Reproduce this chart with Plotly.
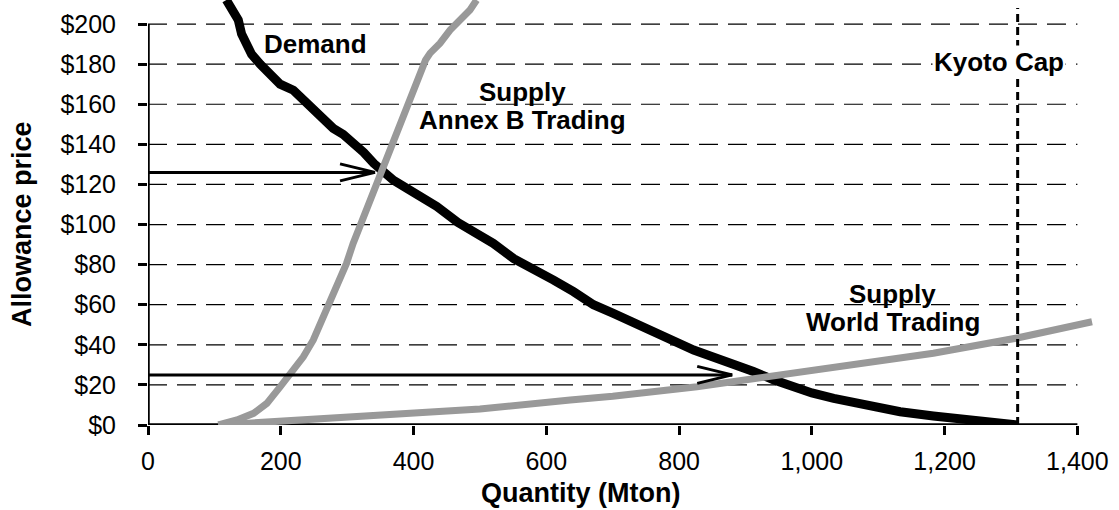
import plotly.graph_objects as go

# ---- data ----
demand_q = [118, 136, 141, 149, 156, 169, 184, 199, 219, 234, 249, 264, 279, 294, 310, 325, 340, 355, 370,
            390, 410, 435, 467, 500, 520, 551, 581, 611, 641, 671, 701, 731, 761, 792, 822, 847, 882, 912,
            942, 972, 1000, 1033, 1083, 1133, 1183, 1234, 1284, 1311]
demand_p = [212, 202, 195, 190, 185, 180, 175, 170, 167, 162, 157, 152, 148, 145, 141, 136, 130.5, 125.5, 122,
            118, 114, 109, 101, 95, 90.6, 83, 78, 72.3, 66.5, 60, 55.7, 51, 46, 41.5, 37.4, 34.4, 30.8, 26.7,
            22.6, 19, 16, 13.3, 10, 6.6, 4.5, 2.8, 1.6, 0]

annexb_q = [106, 134, 159, 179, 199, 219, 234, 249, 264, 279, 289, 299, 309, 317, 325, 335, 345, 355, 365, 375,
            385, 395, 405, 412, 418, 425, 440, 455, 470, 485, 495]
annexb_p = [0, 2.5, 5.8, 10.8, 19, 27.4, 34, 42.4, 54, 65.7, 74, 80.6, 90.6, 97.3, 104, 112, 120, 128.5, 137,
            145.5, 154, 163, 171, 177, 182, 185.5, 190.5, 197, 202, 207, 212]

world_q = [106, 200, 300, 400, 500, 636, 700, 827, 932, 1000, 1083, 1183, 1311, 1422]
world_p = [0, 1.7, 4, 5.8, 8, 12.5, 14.3, 19.1, 24.1, 27.5, 30.8, 35.8, 43.5, 51.5]

kyoto_cap = 1310
equilibria_p = [126, 25]      # arrow prices
equilibria_q = [342, 880]     # arrow tips

x_ticks = [0, 200, 400, 600, 800, 1000, 1200, 1400]
x_ticktext = [f"{v:,}" for v in x_ticks]
y_ticks = [0, 20, 40, 60, 80, 100, 120, 140, 160, 180, 200]
y_ticktext = [f"${v}" for v in y_ticks]

FONT = "Liberation Sans, Arial, sans-serif"
GRAY = "#999999"

fig = go.Figure()
fig.add_trace(go.Scatter(x=demand_q, y=demand_p, mode="lines",
                         line=dict(color="black", width=9), hoverinfo="skip"))
fig.add_trace(go.Scatter(x=annexb_q, y=annexb_p, mode="lines",
                         line=dict(color=GRAY, width=7), hoverinfo="skip"))
fig.add_trace(go.Scatter(x=world_q, y=world_p, mode="lines",
                         line=dict(color=GRAY, width=7), hoverinfo="skip"))

shapes = []
# dashed gridlines
for v in y_ticks[1:]:
    shapes.append(dict(type="line", xref="x", yref="y", x0=0, x1=x_ticks[-1], y0=v, y1=v,
                       line=dict(color="black", width=1.2, dash="19px,10px"), layer="below"))
# axis lines
shapes.append(dict(type="line", xref="x", yref="y", x0=0, x1=0, y0=0, y1=y_ticks[-1],
                   line=dict(color="black", width=3.5), layer="below"))
shapes.append(dict(type="line", xref="x", yref="y", x0=0, x1=x_ticks[-1], y0=0, y1=0,
                   line=dict(color="black", width=3.5), layer="below"))
# Kyoto cap
shapes.append(dict(type="line", xref="x", yref="y", x0=kyoto_cap, x1=kyoto_cap, y0=0, y1=208,
                   line=dict(color="black", width=3, dash="8px,5px"), layer="above"))
# arrows
for p, q in zip(equilibria_p, equilibria_q):
    shapes.append(dict(type="line", xref="x", yref="y", x0=-6, x1=q, y0=p, y1=p,
                       line=dict(color="black", width=3), layer="above"))
    for s in (1, -1):
        shapes.append(dict(type="line", xref="x", yref="y",
                           xsizemode="pixel", xanchor=q, x0=-35, x1=0,
                           ysizemode="pixel", yanchor=p, y0=8.5 * s, y1=0,
                           line=dict(color="black", width=3), layer="above"))

bold = dict(family=FONT, size=26, color="black")
annotations = [
    dict(x=252, y=190, text="<b>Demand</b>"),
    dict(x=564, y=166, text="<b>Supply</b>"),
    dict(x=564, y=152, text="<b>Annex B Trading</b>"),
    dict(x=1122, y=65.3, text="<b>Supply</b>"),
    dict(x=1122, y=51.5, text="<b>World Trading</b>"),
    dict(x=1282, y=181, text="<b>Kyoto Cap</b>", bgcolor="white", borderpad=1),
]
for a in annotations:
    a.update(xref="x", yref="y", showarrow=False, font=bold, xanchor="center", yanchor="middle")

title_font = dict(family=FONT, size=27, color="black")
annotations.append(dict(xref="paper", yref="paper", x=0.4567, y=-0.16, text="<b>Quantity (Mton)</b>",
                        showarrow=False, font=title_font, xanchor="center", yanchor="middle"))
annotations.append(dict(xref="paper", yref="paper", x=-0.1332, y=0.473, text="<b>Allowance price</b>",
                        showarrow=False, font=title_font, xanchor="center", yanchor="middle", textangle=-90))

fig.update_layout(
    width=1119, height=510,
    margin=dict(l=148, r=25, t=0, b=85, pad=0),
    paper_bgcolor="white", plot_bgcolor="white",
    showlegend=False,
    shapes=shapes, annotations=annotations,
    font=dict(family=FONT, size=25, color="black"),
    xaxis=dict(range=[0, 1425], tickmode="array", tickvals=x_ticks, ticktext=x_ticktext,
               showgrid=False, zeroline=False, automargin=False,
               showline=False, ticks="outside", ticklen=9, tickwidth=3, tickcolor="black",
               ticklabelstandoff=5,
               tickfont=dict(family=FONT, size=25, color="black")),
    yaxis=dict(range=[0, 212], tickmode="array", tickvals=y_ticks, ticktext=y_ticktext,
               showgrid=False, zeroline=False, automargin=False,
               showline=False, ticks="outside", ticklen=9, tickwidth=3, tickcolor="black",
               ticklabelstandoff=17,
               tickfont=dict(family=FONT, size=25, color="black")),
)

fig.write_html("out.html", config={"displayModeBar": False, "staticPlot": True},
               post_script="document.body.style.margin='0';document.body.style.overflow='hidden';")
